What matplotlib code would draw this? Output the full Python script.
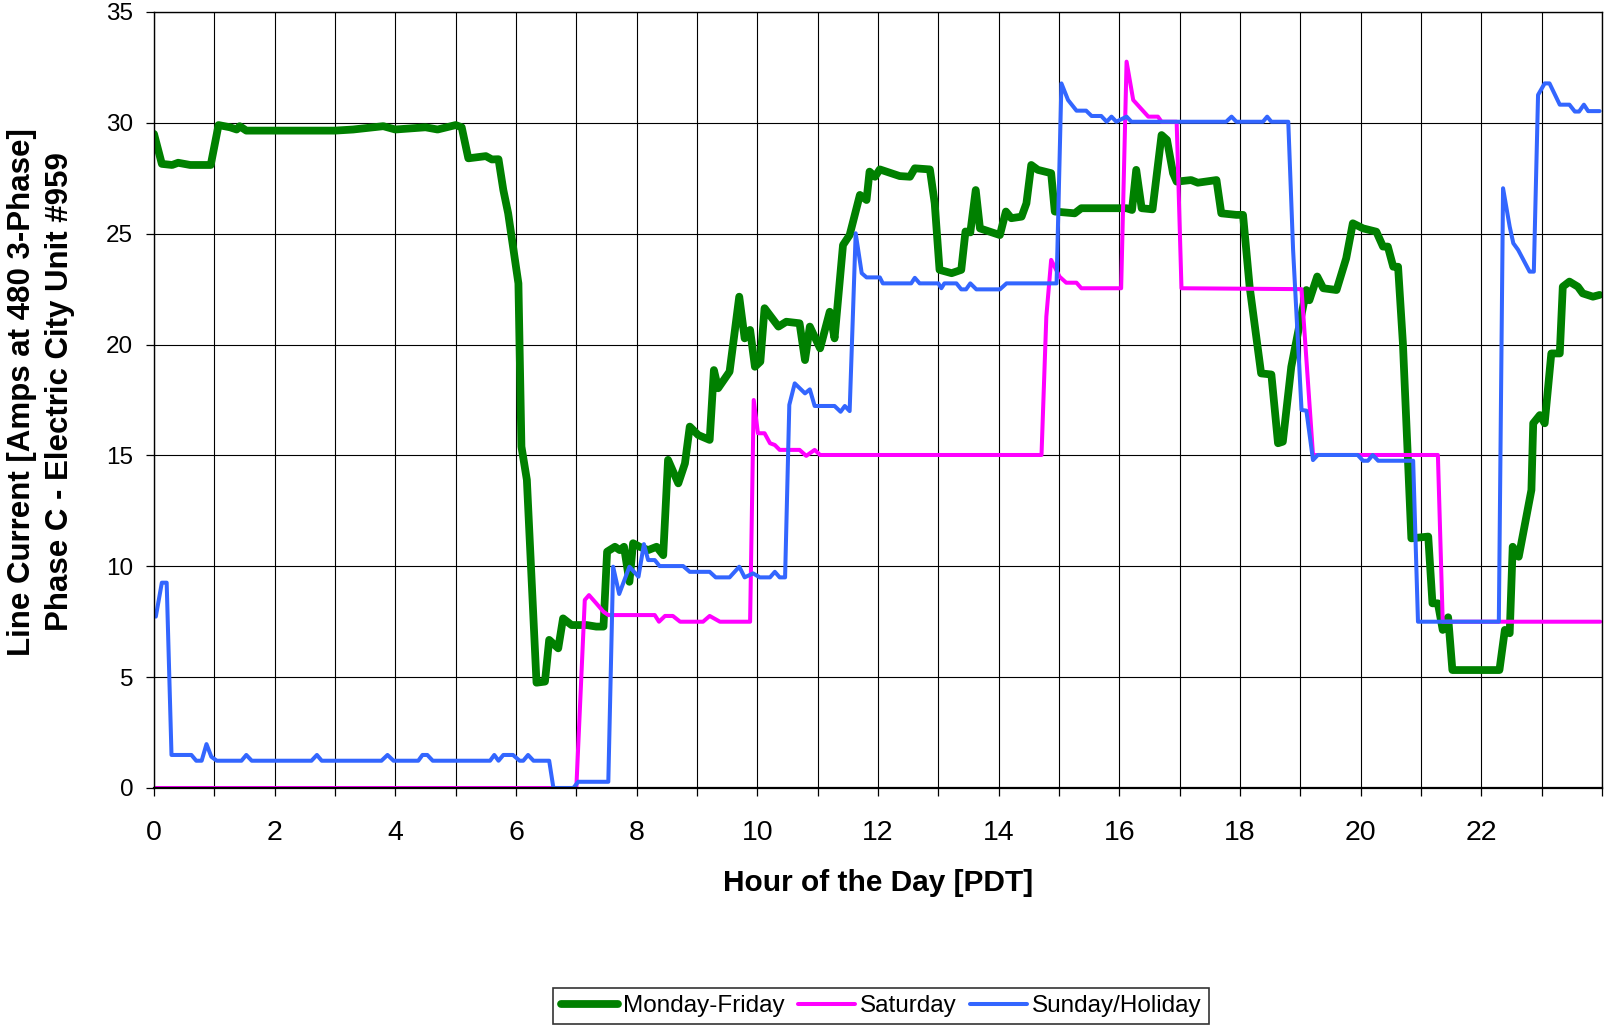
import matplotlib
matplotlib.use("Agg")
import matplotlib.pyplot as plt

plt.rcParams['font.family'] = ['Liberation Sans', 'DejaVu Sans']

# ---------------- data (hour of day, amps) ----------------
series_names = ["Monday-Friday", "Saturday", "Sunday/Holiday"]

weekday_hours = [0.00, 0.13, 0.30, 0.40, 0.60, 0.94, 1.07, 1.26, 1.37, 1.42,
                 1.53, 2.00, 2.60, 3.00, 3.30, 3.80, 4.00, 4.50, 4.70, 5.00,
                 5.10, 5.21, 5.50, 5.60, 5.71, 5.79, 5.87, 6.04, 6.09, 6.18,
                 6.34, 6.48, 6.55, 6.70, 6.78, 6.92, 7.17, 7.33, 7.45, 7.51,
                 7.64, 7.72, 7.79, 7.88, 7.94, 8.05, 8.19, 8.33, 8.44, 8.52,
                 8.69, 8.80, 8.88, 9.02, 9.21, 9.28, 9.35, 9.54, 9.70, 9.79,
                 9.88, 9.96, 10.05, 10.12, 10.35, 10.48, 10.70, 10.79, 10.87, 11.04,
                 11.20, 11.28, 11.42, 11.53, 11.70, 11.81, 11.86, 11.95, 12.03, 12.36,
                 12.53, 12.61, 12.86, 12.94, 13.02, 13.22, 13.38, 13.45, 13.53, 13.62,
                 13.69, 14.02, 14.12, 14.21, 14.38, 14.46, 14.54, 14.65, 14.87, 14.93,
                 15.26, 15.37, 16.12, 16.21, 16.28, 16.37, 16.55, 16.70, 16.79, 16.89,
                 16.95, 17.19, 17.30, 17.61, 17.69, 17.94, 18.05, 18.16, 18.35, 18.52,
                 18.63, 18.71, 18.85, 19.10, 19.15, 19.28, 19.38, 19.60, 19.76, 19.87,
                 20.04, 20.26, 20.37, 20.45, 20.54, 20.62, 20.70, 20.84, 21.12, 21.19,
                 21.28, 21.36, 21.45, 21.52, 22.30, 22.39, 22.47, 22.52, 22.62, 22.83,
                 22.86, 22.97, 23.05, 23.16, 23.30, 23.35, 23.46, 23.60, 23.68, 23.85,
                 23.96]
weekday_amps = [29.5, 28.15, 28.1, 28.2, 28.1, 28.1, 29.9, 29.8, 29.7, 29.85,
                29.65, 29.65, 29.65, 29.65, 29.7, 29.85, 29.7, 29.8, 29.7, 29.9,
                29.8, 28.4, 28.5, 28.35, 28.36, 26.97, 25.92, 22.76, 15.4, 13.9,
                4.75, 4.8, 6.68, 6.3, 7.65, 7.35, 7.35, 7.28, 7.28, 10.66,
                10.88, 10.73, 10.88, 9.3, 11.04, 10.88, 10.73, 10.88, 10.5, 14.8,
                13.74, 14.64, 16.3, 15.92, 15.7, 18.85, 18.03, 18.78, 22.16, 20.28,
                20.66, 19.0, 19.23, 21.64, 20.81, 21.03, 20.96, 19.3, 20.81, 19.83,
                21.48, 20.28, 24.49, 24.94, 26.75, 26.52, 27.8, 27.57, 27.9, 27.6,
                27.57, 27.95, 27.9, 26.37, 23.37, 23.22, 23.37, 25.1, 25.06, 26.97,
                25.24, 24.94, 26.0, 25.7, 25.77, 26.37, 28.1, 27.88, 27.73, 26.0,
                25.92, 26.15, 26.15, 26.07, 27.88, 26.15, 26.1, 29.45, 29.23, 27.73,
                27.35, 27.42, 27.3, 27.42, 25.92, 25.85, 25.85, 22.6, 18.7, 18.65,
                15.55, 15.62, 19.0, 22.46, 22.0, 23.07, 22.54, 22.46, 23.89, 25.47,
                25.24, 25.09, 24.42, 24.42, 23.51, 23.51, 20.06, 11.26, 11.34, 8.33,
                8.33, 7.13, 7.7, 5.32, 5.32, 7.13, 6.98, 10.88, 10.43, 13.44,
                16.45, 16.82, 16.45, 19.6, 19.6, 22.61, 22.84, 22.61, 22.31, 22.16,
                22.24]

saturday_hours = [0.00, 7.00, 7.14, 7.21, 7.33, 7.45, 7.53, 8.30, 8.37, 8.47,
                  8.60, 8.72, 9.10, 9.21, 9.38, 9.88, 9.94, 10.01, 10.12, 10.21,
                  10.29, 10.37, 10.70, 10.81, 10.95, 11.04, 14.71, 14.79, 14.87, 15.01,
                  15.12, 15.29, 15.37, 16.03, 16.12, 16.23, 16.48, 16.64, 16.70, 16.95,
                  17.03, 19.02, 19.21, 21.28, 21.36, 23.97]
saturday_amps = [0.0, 0.0, 8.48, 8.7, 8.33, 7.95, 7.8, 7.8, 7.5, 7.76,
                 7.76, 7.5, 7.5, 7.76, 7.5, 7.5, 17.5, 16.0, 16.0, 15.55,
                 15.47, 15.25, 15.25, 14.98, 15.25, 15.02, 15.02, 21.26, 23.82, 23.06,
                 22.79, 22.79, 22.54, 22.54, 32.76, 31.03, 30.28, 30.28, 30.05, 30.05,
                 22.54, 22.5, 15.02, 15.02, 7.5, 7.5]

sunday_hours = [0.03, 0.13, 0.21, 0.29, 0.62, 0.70, 0.79, 0.87, 0.95, 1.04,
                1.45, 1.53, 1.62, 2.61, 2.70, 2.78, 3.77, 3.87, 3.97, 4.38,
                4.45, 4.53, 4.62, 5.57, 5.64, 5.71, 5.79, 5.95, 6.06, 6.12,
                6.20, 6.29, 6.55, 6.62, 6.95, 7.03, 7.53, 7.61, 7.71, 7.88,
                8.03, 8.12, 8.19, 8.30, 8.38, 8.77, 8.88, 9.21, 9.31, 9.54,
                9.70, 9.79, 9.93, 10.04, 10.21, 10.29, 10.37, 10.46, 10.53, 10.62,
                10.79, 10.87, 10.95, 11.28, 11.38, 11.45, 11.53, 11.63, 11.73, 11.81,
                12.03, 12.08, 12.55, 12.61, 12.69, 13.00, 13.05, 13.10, 13.30, 13.38,
                13.46, 13.53, 13.63, 14.02, 14.13, 14.96, 15.04, 15.15, 15.29, 15.45,
                15.54, 15.70, 15.79, 15.87, 15.95, 16.12, 16.20, 17.77, 17.86, 17.94,
                18.38, 18.45, 18.52, 18.80, 18.88, 19.02, 19.10, 19.21, 19.29, 19.95,
                20.04, 20.12, 20.20, 20.29, 20.87, 20.95, 22.29, 22.36, 22.47, 22.53,
                22.61, 22.80, 22.87, 22.94, 23.05, 23.13, 23.30, 23.46, 23.55, 23.62,
                23.70, 23.77, 23.96]
sunday_amps = [7.73, 9.26, 9.26, 1.49, 1.49, 1.23, 1.23, 1.98, 1.41, 1.23,
               1.23, 1.49, 1.23, 1.23, 1.49, 1.23, 1.23, 1.49, 1.23, 1.23,
               1.49, 1.49, 1.23, 1.23, 1.49, 1.23, 1.49, 1.49, 1.23, 1.23,
               1.49, 1.23, 1.23, 0.0, 0.0, 0.28, 0.28, 9.98, 8.75, 9.98,
               9.53, 11.0, 10.28, 10.28, 10.01, 10.01, 9.75, 9.75, 9.5, 9.5,
               9.98, 9.5, 9.68, 9.5, 9.5, 9.75, 9.5, 9.5, 17.28, 18.25,
               17.8, 17.98, 17.23, 17.23, 16.97, 17.23, 17.0, 25.02, 23.22, 23.03,
               23.03, 22.76, 22.76, 23.01, 22.76, 22.76, 22.54, 22.76, 22.76, 22.49,
               22.49, 22.76, 22.49, 22.49, 22.76, 22.76, 31.78, 31.03, 30.55, 30.55,
               30.31, 30.31, 30.05, 30.28, 30.05, 30.28, 30.05, 30.05, 30.28, 30.05,
               30.05, 30.28, 30.05, 30.05, 24.27, 17.05, 17.02, 14.79, 15.02, 15.02,
               14.76, 14.76, 15.02, 14.76, 14.76, 7.5, 7.5, 27.05, 25.32, 24.57,
               24.27, 23.29, 23.29, 31.26, 31.78, 31.78, 30.82, 30.82, 30.51, 30.51,
               30.82, 30.53, 30.53]

x_ticks = list(range(0, 25))
x_tick_labels = [str(h) if (h % 2 == 0 and h < 24) else "" for h in x_ticks]
y_ticks = [0, 5, 10, 15, 20, 25, 30, 35]

assert len(weekday_hours) == len(weekday_amps)
assert len(saturday_hours) == len(saturday_amps)
assert len(sunday_hours) == len(sunday_amps)

# ---------------- figure ----------------
W, H = 1604, 1026
fig = plt.figure(figsize=(W / 100, H / 100), dpi=100)
left, right, top, bottom = 154, 1602, 12, 788
ax = fig.add_axes([left / W, 1 - bottom / H, (right - left) / W, (bottom - top) / H])

styles = [
    dict(color="#008000", lw=5.6),
    dict(color="#FF00FF", lw=2.9),
    dict(color="#3366FF", lw=2.9),
]
data = [(weekday_hours, weekday_amps), (saturday_hours, saturday_amps),
        (sunday_hours, sunday_amps)]
for (hx, vy), name, st in zip(data, series_names, styles):
    ax.plot(hx, vy, label=name, solid_joinstyle="round", solid_capstyle="round", **st)

ax.set_xlim(0, 24)
ax.set_ylim(0, 35)
ax.set_xticks(x_ticks)
ax.set_xticklabels(x_tick_labels, fontsize=20.5)
ax.set_yticks(y_ticks)
ax.set_yticklabels([str(v) for v in y_ticks], fontsize=17.5)
ax.grid(True, color="black", lw=0.8)
ax.set_axisbelow(True)
ax.tick_params(axis="x", direction="out", length=6, width=0.9, pad=17)
ax.tick_params(axis="y", direction="out", length=6, width=0.9, pad=9)
for s in ax.spines.values():
    s.set_color("black")
    s.set_linewidth(1.0)
ax.spines["bottom"].set_linewidth(1.6)

ax.set_xlabel("Hour of the Day [PDT]", fontsize=21.5, fontweight="bold")
ax.xaxis.label.set_va("center")
ax.xaxis.set_label_coords(0.5, (bottom - 883) / (bottom - top))

ax.set_ylabel("Line Current [Amps at 480 3-Phase]\nPhase C - Electric City Unit #959",
              fontsize=22.5, fontweight="bold", multialignment="center",
              linespacing=1.32)
ax.yaxis.label.set_va("center")
ax.yaxis.set_label_coords((41 - left) / (right - left), (bottom - 392) / (bottom - top))

leg = fig.legend(loc="center", bbox_to_anchor=(881 / W, 1 - 1006 / H), ncol=3,
                 fontsize=17.5, frameon=True, fancybox=False, edgecolor="black",
                 handlelength=2.35, handletextpad=0.2, columnspacing=0.55,
                 borderpad=0.3)
leg.get_frame().set_linewidth(1.2)

fig.savefig("out.png", dpi=100)
